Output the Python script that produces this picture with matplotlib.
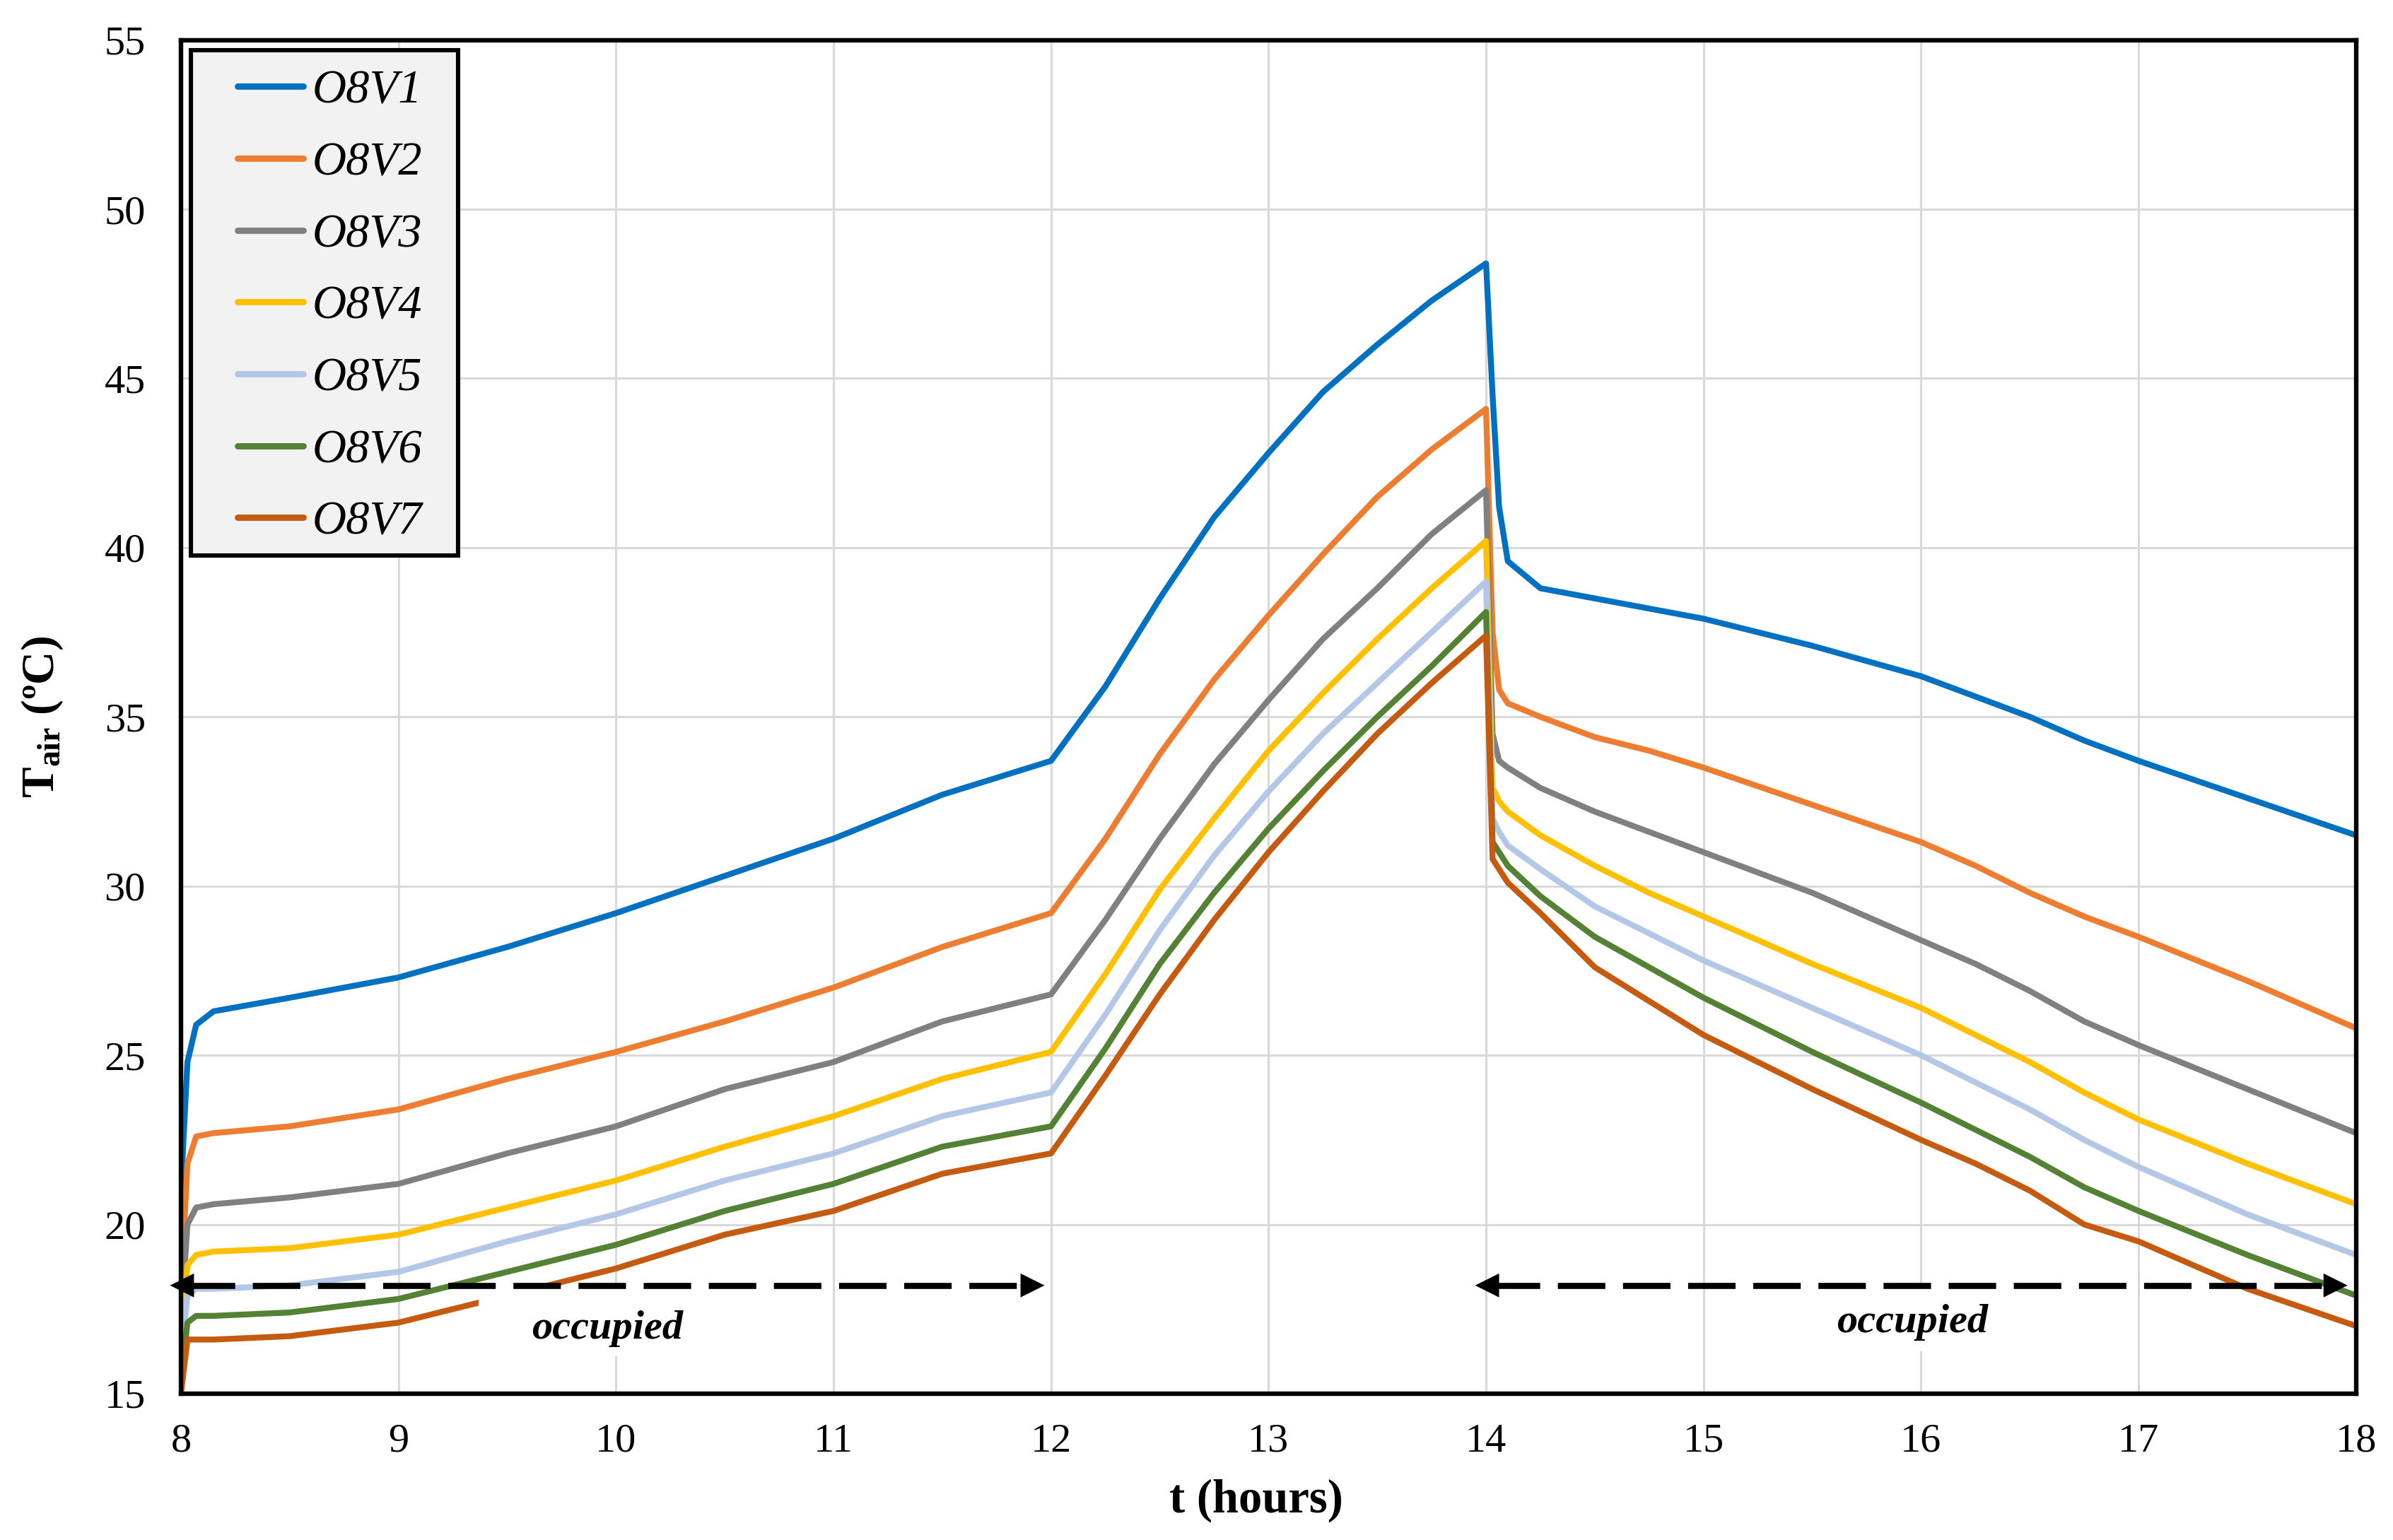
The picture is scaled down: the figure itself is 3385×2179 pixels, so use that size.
import matplotlib
matplotlib.use("Agg")
import matplotlib.pyplot as plt
from matplotlib.patches import Rectangle
import numpy as np

plt.rcParams['font.family'] = ['Liberation Serif', 'DejaVu Serif']
plt.rcParams['mathtext.fontset'] = 'custom'
plt.rcParams['mathtext.rm'] = 'Liberation Serif'
plt.rcParams['mathtext.bf'] = 'Liberation Serif:bold'
plt.rcParams['mathtext.it'] = 'Liberation Serif:italic'

# time (hours) of the read points
t = [8.0, 8.03, 8.07, 8.15, 8.5, 9.0, 9.5, 10.0, 10.5, 11.0, 11.5, 12.0,
     12.25, 12.5, 12.75, 13.0, 13.25, 13.5, 13.75, 14.0, 14.03, 14.06, 14.1,
     14.25, 14.5, 14.75, 15.0, 15.5, 16.0, 16.25, 16.5, 16.75, 17.0, 17.5, 18.0]

# air temperature (ºC) per case
o8v1 = [21.0, 24.8, 25.9, 26.3, 26.7, 27.3, 28.2, 29.2, 30.3, 31.4, 32.7, 33.7,
        35.9, 38.5, 40.9, 42.8, 44.6, 46.0, 47.3, 48.4, 44.5, 41.2, 39.6,
        38.8, 38.5, 38.2, 37.9, 37.1, 36.2, 35.6, 35.0, 34.3, 33.7, 32.6, 31.5]
o8v2 = [18.0, 21.8, 22.6, 22.7, 22.9, 23.4, 24.3, 25.1, 26.0, 27.0, 28.2, 29.2,
        31.4, 33.9, 36.1, 38.0, 39.8, 41.5, 42.9, 44.1, 37.5, 35.8, 35.4,
        35.0, 34.4, 34.0, 33.5, 32.4, 31.3, 30.6, 29.8, 29.1, 28.5, 27.2, 25.8]
o8v3 = [17.0, 20.0, 20.5, 20.6, 20.8, 21.2, 22.1, 22.9, 24.0, 24.8, 26.0, 26.8,
        29.0, 31.4, 33.6, 35.5, 37.3, 38.8, 40.4, 41.7, 34.5, 33.7, 33.5,
        32.9, 32.2, 31.6, 31.0, 29.8, 28.4, 27.7, 26.9, 26.0, 25.3, 24.0, 22.7]
o8v4 = [16.5, 18.8, 19.1, 19.2, 19.3, 19.7, 20.5, 21.3, 22.3, 23.2, 24.3, 25.1,
        27.4, 29.9, 32.0, 34.0, 35.7, 37.3, 38.8, 40.2, 32.9, 32.5, 32.2,
        31.5, 30.6, 29.8, 29.1, 27.7, 26.4, 25.6, 24.8, 23.9, 23.1, 21.8, 20.6]
o8v5 = [16.0, 17.9, 18.1, 18.1, 18.2, 18.6, 19.5, 20.3, 21.3, 22.1, 23.2, 23.9,
        26.2, 28.7, 30.9, 32.8, 34.5, 36.0, 37.5, 39.0, 32.0, 31.6, 31.2,
        30.5, 29.4, 28.6, 27.8, 26.4, 25.0, 24.2, 23.4, 22.5, 21.7, 20.3, 19.1]
o8v6 = [15.3, 17.1, 17.3, 17.3, 17.4, 17.8, 18.6, 19.4, 20.4, 21.2, 22.3, 22.9,
        25.2, 27.7, 29.8, 31.7, 33.4, 35.0, 36.5, 38.1, 31.3, 31.0, 30.6,
        29.7, 28.5, 27.6, 26.7, 25.1, 23.6, 22.8, 22.0, 21.1, 20.4, 19.1, 17.9]
o8v7 = [15.0, 16.6, 16.6, 16.6, 16.7, 17.1, 17.9, 18.7, 19.7, 20.4, 21.5, 22.1,
        24.4, 26.8, 29.0, 31.0, 32.8, 34.5, 36.0, 37.4, 30.8, 30.5, 30.1,
        29.2, 27.6, 26.6, 25.6, 24.0, 22.5, 21.8, 21.0, 20.0, 19.5, 18.1, 17.0]

series = [o8v1, o8v2, o8v3, o8v4, o8v5, o8v6, o8v7]
labels = ['O8V1', 'O8V2', 'O8V3', 'O8V4', 'O8V5', 'O8V6', 'O8V7']
colors = ['#0070C0', '#ED7D31', '#808080', '#FFC000', '#B4C7E7', '#548235', '#C55A11']

# occupied periods (start, end) and arrow level
occupied = [(7.95, 11.97), (13.95, 17.96)]
arrow_T = 18.2

fig = plt.figure(figsize=(16.925, 10.895), dpi=200)
ax = fig.add_axes([0.0756, 0.095, 0.9846 - 0.0756, 0.974 - 0.095])

for y, lab, c in zip(series, labels, colors):
    ax.plot(t, y, color=c, lw=3.0, label=lab, zorder=3)

ax.set_xlim(8, 18)
ax.set_ylim(15, 55)
ax.set_xticks(np.arange(8, 19, 1))
ax.set_yticks(np.arange(15, 56, 5))
ax.grid(True, color='#d9d9d9', lw=1.1, zorder=0)
ax.set_axisbelow(True)
ax.tick_params(axis='both', length=0, labelsize=21)
ax.tick_params(axis='x', pad=15)
ax.tick_params(axis='y', pad=18)
for s in ax.spines.values():
    s.set_linewidth(2.3)
    s.set_color('black')
    s.set_zorder(6)

# white boxes behind the "occupied" labels (reach up to the arrow)
ax.add_patch(Rectangle((9.37, 16.1), 1.18, 2.1, facecolor='white', edgecolor='none', zorder=4))
ax.add_patch(Rectangle((15.35, 16.25), 1.22, 1.95, facecolor='white', edgecolor='none', zorder=4))
ax.text(9.96, 16.63, 'occupied', fontsize=21, fontweight='bold', style='italic',
        ha='center', va='baseline', zorder=5)
ax.text(15.96, 16.82, 'occupied', fontsize=21, fontweight='bold', style='italic',
        ha='center', va='baseline', zorder=5)

# dashed double arrows
for a, b in occupied:
    ax.plot([a + 0.08, b - 0.08], [arrow_T, arrow_T], color='black', lw=3.1,
            ls=(0, (7.8, 2.9)), zorder=5, clip_on=False)
    for tip, tail in [(a, a + 0.12), (b, b - 0.12)]:
        ax.annotate('', xy=(tip, arrow_T), xytext=(tail, arrow_T),
                    arrowprops=dict(arrowstyle='-|>,head_length=1.0,head_width=0.5',
                                    color='black', lw=0.1, shrinkA=0, shrinkB=0,
                                    mutation_scale=12),
                    zorder=6, annotation_clip=False)

# legend box drawn by hand so the margins match
ax.add_patch(Rectangle((0.0045, 0.619), 0.1228, 0.3737, transform=ax.transAxes,
                       facecolor='#f2f2f2', edgecolor='black', lw=2.2, zorder=6))
leg = ax.legend(loc='upper left', bbox_to_anchor=(0.026, 0.978), frameon=False,
                borderpad=0, borderaxespad=0, handlelength=1.4, handletextpad=0.18,
                labelspacing=0.61, prop={'family': 'Liberation Serif', 'style': 'italic', 'size': 24})
leg.set_zorder(7)
for h in leg.get_lines():
    h.set_linewidth(3.2)
    h.set_solid_capstyle('round')

fig.text(0.525, 0.0257, 't (hours)', fontsize=24, fontweight='bold', ha='center', va='center')
fig.text(0.0177, 0.5346, r'T$_{\mathbf{air}}$ (ºC)', fontsize=23.5, fontweight='bold',
         rotation=90, ha='center', va='center')

fig.savefig('out.png', dpi=200)
